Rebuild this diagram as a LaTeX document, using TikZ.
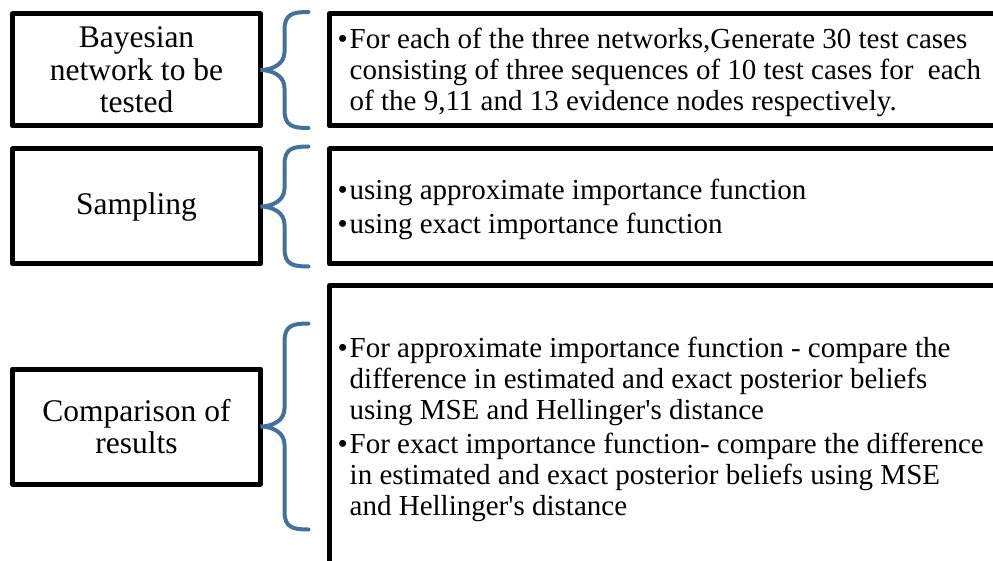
\documentclass[tikz,border=0pt]{standalone}
\usepackage{fontspec}
\setmainfont{LiberationSerif}[Extension=.ttf, UprightFont=*-Regular, BoldFont=*-Bold, ItalicFont=*-Italic, BoldItalicFont=*-BoldItalic]
\usetikzlibrary{calc}
\definecolor{braceblue}{RGB}{65,113,156}
\newcommand{\bul}{\makebox[12pt][l]{\textbullet}}
\newcommand{\ind}{\hspace*{12pt}}
% curly brace: tip at the east side of node #1, half height #2
\newcommand{\brc}[2]{%
  \draw[brace] (#1.east) ++(48,-#2)
    .. controls +(-16,0) and +(0,-16) .. ++(-24,18)
    -- ++(0,{#2-36})
    .. controls +(0,12) and +(12,0) .. ++(-24,18)
    .. controls +(12,0) and +(0,-12) .. ++(24,18)
    -- ++(0,{#2-36})
    .. controls +(0,16) and +(-16,0) .. ++(24,18);}

\begin{document}
\begin{tikzpicture}[x=1pt,y=-1pt,
    box/.style={draw, line width=5pt, line join=round, outer sep=0pt, inner sep=0pt},
    lefttext/.style={font=\rmfamily\fontsize{31.5}{32.5}\selectfont, align=center},
    righttext/.style={font=\rmfamily\fontsize{29}{31}\selectfont, align=left, anchor=west, inner sep=0pt},
    brace/.style={draw=braceblue, line width=4pt, line cap=round}]
                \clip (0,0) rectangle (993,561);
                \node[box, lefttext, minimum width=248pt, minimum height=112pt] (bay) at (136.5,70) {Bayesian\\network to be\\tested};
                \node[box, lefttext, minimum width=248pt, minimum height=115pt] (samp) at (136.5,206.5) {Sampling};
                \node[box, lefttext, minimum width=248pt, minimum height=115pt] (comp) at (136.5,426.5) {Comparison of\\results};
                \node[box, minimum width=700pt, minimum height=112pt] (gen) at (679.5,70) {};
                \node[box, minimum width=700pt, minimum height=115pt] (imp) at (679.5,206.5) {};
                \node[box, minimum width=700pt, minimum height=295pt] (res) at (679.5,433) {};
                \brc{bay}{58}
                \brc{samp}{60}
                \brc{comp}{103}
                \node[righttext] (gentxt) at ($(gen.west)+(8,2)$) {\bul For each of the three networks,Generate 30 test cases\\
                  \ind consisting of three sequences of 10 test cases for~ each\\
                  \ind of the 9,11 and 13 evidence nodes respectively.};
                \node[righttext] (imptxt) at ($(imp.west)+(8,3)$) {\bul using approximate importance function\\[3pt]
                  \bul using exact importance function};
                \node[righttext] (restxt) at ($(res.west |- comp.east)+(8,3)$) {\bul For approximate importance function - compare the\\
                  \ind difference in estimated and exact posterior beliefs\\
                  \ind using MSE and Hellinger\textquotesingle s distance\\[3pt]
                  \bul For exact importance function- compare the difference\\
                  \ind in estimated and exact posterior beliefs using MSE\\
                  \ind and Hellinger\textquotesingle s distance};
                \end{tikzpicture}
\end{document}
